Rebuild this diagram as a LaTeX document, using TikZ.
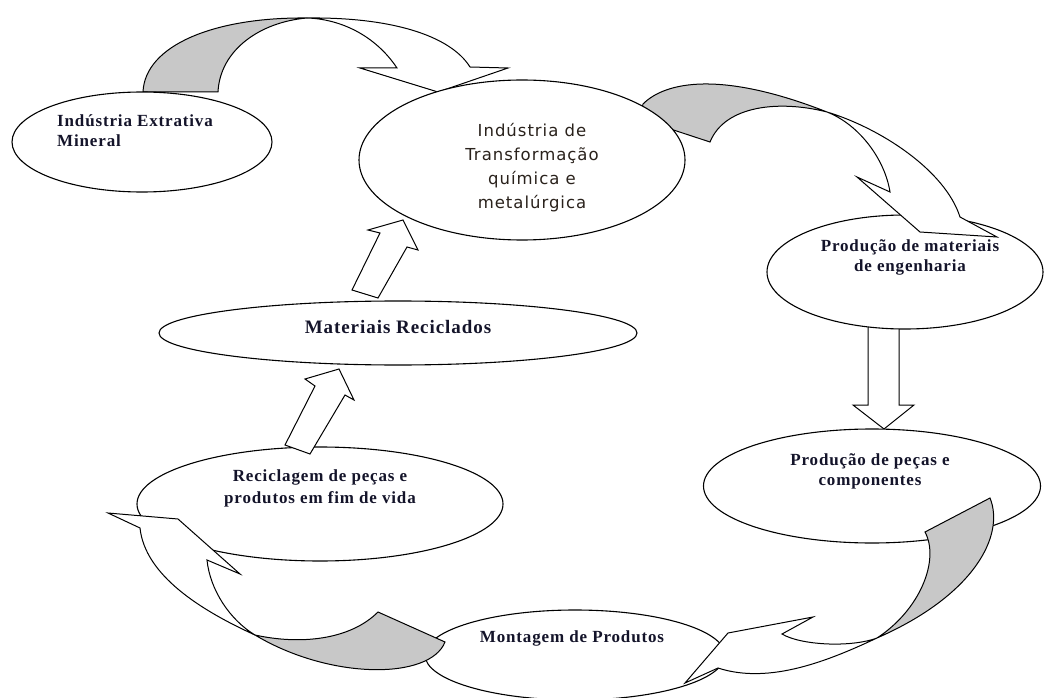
\documentclass[tikz,border=0pt]{standalone}
\usepackage{fontspec}
\setmainfont{Liberation Serif}
\newfontfamily\lblfont{Liberation Serif}[LetterSpace=5]
\newfontfamily\trsans{DejaVu Sans}[LetterSpace=6]
\usetikzlibrary{shapes.geometric}
\definecolor{bandgray}{RGB}{200,200,200}
\definecolor{lbltxt}{HTML}{14142A}
\definecolor{sanstxt}{HTML}{2A221C}
\tikzset{
  oval/.style={ellipse, draw=black, line width=1.1pt, fill=white, inner sep=0pt},
  band/.style={draw=black, line width=1pt, line join=miter, fill=white},
  shade/.style={draw=black, line width=1pt, line join=miter, fill=bandgray},
  lbl/.style={font=\lblfont\bfseries\fontsize{17pt}{20pt}\selectfont, text=lbltxt, align=center, inner sep=0pt},
}
\begin{document}
\begin{tikzpicture}[x=1pt,y=-1pt]
\useasboundingbox (0,0) rectangle (1045,698);
\fill[white] (0,0) rectangle (1045,698);

% curved arrow: extrativa -> transformacao
\path[shade] (143,92) .. controls (145,45) and (215,17) .. (307,18)
  .. controls (260,22) and (220,50) .. (218,92) -- cycle;
\path[band] (307,18) .. controls (390,17) and (450,35) .. (470,67) -- (508,68) -- (438,92)
  -- (360,68) -- (397,68) .. controls (375,35) and (340,19) .. (307,18) -- cycle;

% block arrow: materiais reciclados -> transformacao
\path[band] (352,290) -- (380,233) -- (368,230) -- (403,220) -- (418,250) -- (407,247) -- (378,298) -- cycle;
% block arrow: materiais de engenharia -> pecas
\path[band] (868,325) -- (868,405) -- (853,405) -- (884,429) -- (914,405) -- (899,405) -- (899,325) -- cycle;

\node[oval, minimum width=276pt, minimum height=114pt] (mat) at (905,272) {};

% curved arrow: transformacao -> materiais de engenharia
\path[shade] (710,142) -- (640,119) -- (643,104) .. controls (665,82) and (720,70) .. (827,112)
  .. controls (780,100) and (725,105) .. (710,142) -- cycle;
\path[band] (827,112) .. controls (880,128) and (945,170) .. (960,217) -- (997,237) -- (920,232)
  -- (857,177) -- (890,192) .. controls (885,160) and (860,125) .. (827,112) -- cycle;

\node[oval, minimum width=326pt, minimum height=160pt] (trans) at (522,160) {};
\node[oval, minimum width=260pt, minimum height=100pt] (ext) at (142,142) {};
\node[oval, minimum width=478pt, minimum height=64pt] (rec) at (398,333) {};
\node[oval, minimum width=366pt, minimum height=114pt] (cyc) at (320,504) {};

% block arrow: reciclagem -> materiais reciclados
\path[band] (285,445) -- (315,386) -- (305,379) -- (339,369) -- (354,400) -- (345,395) -- (310,454) -- cycle;

\node[oval, minimum width=337pt, minimum height=114pt] (pec) at (872,486) {};
\node[oval, minimum width=300pt, minimum height=90pt] (mon) at (575,655) {};

% curved arrow: pecas -> montagem
\path[shade] (990,498) -- (925,532) .. controls (940,560) and (920,610) .. (877,638)
  .. controls (975,595) and (1005,535) .. (990,498) -- cycle;
\path[band] (877,638) .. controls (830,660) and (770,685) .. (718,668) -- (685,683) -- (728,633)
  -- (813,617) -- (782,634) .. controls (800,645) and (850,648) .. (877,638) -- cycle;

% curved arrow: montagem -> reciclagem
\path[shade] (378,612) -- (445,642) .. controls (430,680) and (330,680) .. (255,635)
  .. controls (300,645) and (350,640) .. (378,612) -- cycle;
\path[band] (255,635) .. controls (200,610) and (145,575) .. (140,528) -- (108,513) -- (178,519)
  -- (240,574) -- (207,560) .. controls (210,590) and (230,620) .. (255,635) -- cycle;

% labels
\node[lbl, align=left, anchor=west] (ext-t) at (57,131) {Indústria Extrativa\\Mineral};
\node[font=\trsans\fontsize{16.5pt}{24pt}\selectfont, text=sanstxt, align=center, inner sep=0pt] (trans-t) at (532,168) {Indústria de\\Transformação\\química e\\metalúrgica};
\node[lbl] (mat-t) at (910,257) {Produção de materiais\\de engenharia};
\node[lbl] (pec-t) at (870,471) {Produção de peças e\\componentes};
\node[lbl, font=\lblfont\bfseries\fontsize{19pt}{22pt}\selectfont] (rec-t) at (398,327) {Materiais Reciclados};
\node[lbl, font=\lblfont\bfseries\fontsize{17pt}{22pt}\selectfont] (cyc-t) at (320,488) {Reciclagem de peças e\\produtos em fim de vida};
\node[lbl] (mon-t) at (572,638) {Montagem de Produtos};
\end{tikzpicture}
\end{document}
